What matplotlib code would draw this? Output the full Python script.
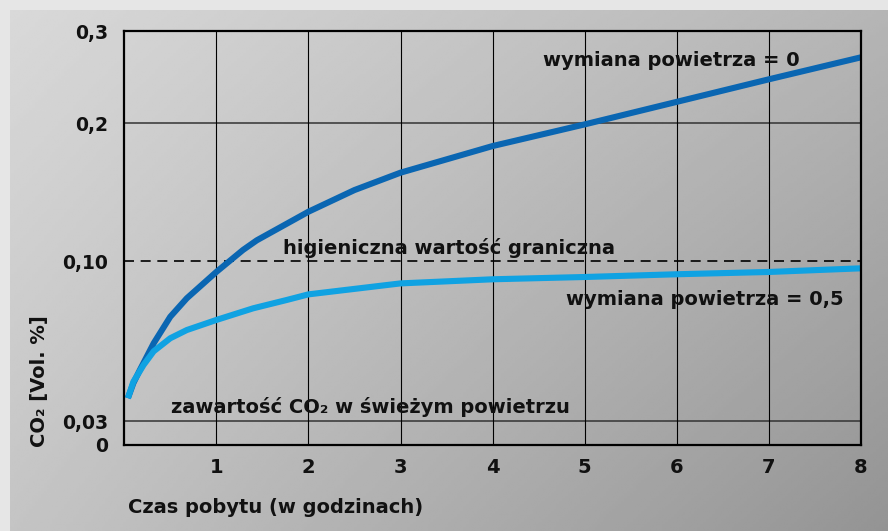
import numpy as np
import matplotlib
matplotlib.use("Agg")
import matplotlib.pyplot as plt

# ---------------- data ----------------
hours_no_exchange = [0.04, 0.10, 0.17, 0.32, 0.50, 0.68, 1.0, 1.29, 1.44, 2.0, 2.5, 3.0, 4.0, 5.0, 6.0, 7.0, 8.0]
co2_no_exchange = [0.040, 0.0466, 0.0523, 0.064, 0.0756, 0.0837, 0.0952, 0.108, 0.115, 0.1357, 0.1514, 0.164, 0.1833, 0.199, 0.223, 0.2475, 0.2714]

hours_exchange_05 = [0.04, 0.10, 0.21, 0.32, 0.50, 0.68, 1.0, 1.40, 1.76, 2.0, 3.0, 4.0, 5.0, 6.0, 7.0, 8.0]
co2_exchange_05 = [0.040, 0.0472, 0.0545, 0.0605, 0.0662, 0.0698, 0.0742, 0.0793, 0.0829, 0.0854, 0.0902, 0.092, 0.093, 0.0942, 0.0952, 0.0968]

x_ticks = [1, 2, 3, 4, 5, 6, 7, 8]
x_tick_labels = ["1", "2", "3", "4", "5", "6", "7", "8"]
y_ticks = [0, 0.03, 0.10, 0.2, 0.3]
y_tick_labels = ["0", "0,03", "0,10", "0,2", "0,3"]

limit_value = 0.10          # higieniczna wartość graniczna
solid_hlines = [0.03, 0.2]

label_no_exchange = "wymiana powietrza = 0"
label_exchange_05 = "wymiana powietrza = 0,5"
label_limit = "higieniczna wartość graniczna"
label_fresh = "zawartość CO₂ w świeżym powietrzu"
x_title = "Czas pobytu (w godzinach)"
y_title = "CO₂ [Vol. %]"

# non-linear y axis of the original (value -> height in px above bottom)
SCALE_VALUES = [0, 0.03, 0.10, 0.2, 0.3]
SCALE_POS = [0, 24, 184, 322, 414]


def fwd(v):
    return np.interp(v, SCALE_VALUES, SCALE_POS)


def inv(p):
    return np.interp(p, SCALE_POS, SCALE_VALUES)


W, H = 888, 531
plt.rcParams['font.family'] = ['DejaVu Sans']
plt.rcParams['font.weight'] = 'bold'

fig = plt.figure(figsize=(W / 100, H / 100), dpi=100, facecolor='#e6e6e6')

# gradient background panel
bg = fig.add_axes([10 / W, 0, (W - 10) / W, (H - 10) / H])
bg.axis('off')
u = np.linspace(0, 1, 300)[None, :]
v = np.linspace(0, 1, 200)[:, None]   # 0 = top, 1 = bottom
TL, TR, BL, BR = 0.85, 0.71, 0.77, 0.58
grad = TL * (1 - u) * (1 - v) + TR * u * (1 - v) + BL * (1 - u) * v + BR * u * v
bg.imshow(grad, cmap='gray', vmin=0, vmax=1, aspect='auto',
          extent=[0, 1, 0, 1], interpolation='bilinear')
bg.set_xlim(0, 1)
bg.set_ylim(0, 1)

# main axes
left, right, top, bottom = 124.2, 861.0, 31.0, 445.0
ax = fig.add_axes([left / W, (H - bottom) / H, (right - left) / W, (bottom - top) / H])
ax.patch.set_alpha(0)
ax.set_yscale('function', functions=(fwd, inv))
ax.set_xlim(0, 8)
ax.set_ylim(0, 0.3)

ax.set_xticks(x_ticks)
ax.set_xticklabels(x_tick_labels)
ax.set_yticks(y_ticks)
ax.set_yticklabels(y_tick_labels)
ax.yaxis.set_minor_locator(matplotlib.ticker.NullLocator())
ax.tick_params(axis='both', length=0, labelcolor='#111111')
ax.tick_params(axis='y', pad=11.5, labelsize=13.5)
ax.tick_params(axis='x', pad=9.5, labelsize=14)
for lab in ax.get_xticklabels() + ax.get_yticklabels():
    lab.set_fontweight('bold')

ax.grid(axis='x', color='black', lw=0.8, zorder=1)
for hv in solid_hlines:
    ax.axhline(hv, color='#333333', lw=1.1, zorder=1)
ax.axhline(limit_value, color='black', lw=1.2, ls=(0, (6, 4)), zorder=1)

for s in ax.spines.values():
    s.set_linewidth(1.6)
    s.set_color('black')
    s.set_zorder(5)

ax.plot(hours_no_exchange, co2_no_exchange, color='#0a66b2', lw=4.4,
        solid_joinstyle='round', solid_capstyle='butt', zorder=3)
ax.plot(hours_exchange_05, co2_exchange_05, color='#10a2e2', lw=4.4,
        solid_joinstyle='round', solid_capstyle='butt', zorder=4)


def ftext(x, y, s, **kw):
    fig.text(x / W, 1 - y / H, s, fontsize=14, fontweight='bold',
             color='#111111', **kw)


ftext(542.7, 65.7, label_no_exchange, ha='left', va='baseline')
ftext(283.3, 254.3, label_limit, ha='left', va='baseline')
ftext(566.0, 305.0, label_exchange_05, ha='left', va='baseline')
ftext(170.7, 413.3, label_fresh, ha='left', va='baseline')
ftext(128.0, 513.0, x_title, ha='left', va='baseline')
ftext(40.0, 381.5, y_title, ha='center', va='center', rotation=90)

fig.savefig('out.png', dpi=100, facecolor=fig.get_facecolor())
